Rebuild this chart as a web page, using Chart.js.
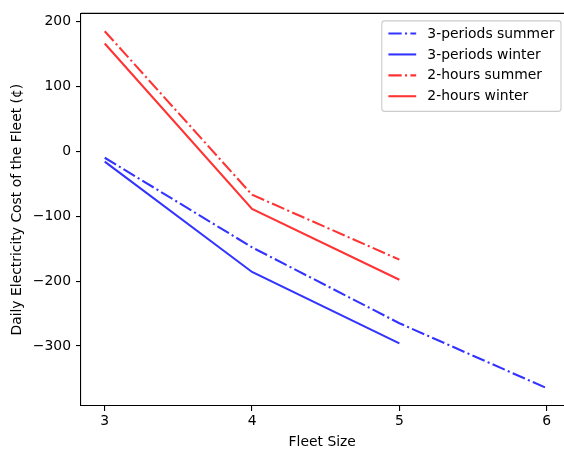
<!DOCTYPE html>
<html>
<head>
<meta charset="utf-8">
<script src="https://cdn.jsdelivr.net/npm/chart.js@4/dist/chart.umd.min.js"></script>
<style>
html,body{margin:0;padding:0;background:#fff;overflow:hidden;width:564px;height:451px;}
canvas{display:block;}
</style>
</head>
<body>
<canvas id="c" width="564" height="451" style="width:564px;height:451px"></canvas>
<script>
const fleetSizes = [3, 4, 5, 6];
const periodsSummer = [-10, -148, -265, -365];
const periodsWinter = [-16, -186, -296];
const hoursSummer = [185, -67, -167];
const hoursWinter = [166, -89, -198];
const xTicks = [3, 4, 5, 6];
const yTicks = [-300, -200, -100, 0, 100, 200];
const seriesLabels = ['3-periods summer', '3-periods winter', '2-hours summer', '2-hours winter'];

const FS = 13.9;
const FONT = 'DejaVu Sans';
const LW = 2.08;
const DASHDOT = [13.3, 3.3, 2.1, 3.3];
const BLUE = 'rgba(0,0,255,0.8)';
const RED = 'rgba(255,0,0,0.8)';

function pts(vals){ return vals.map((v,i)=>({x: fleetSizes[i], y: v})); }

const datasets = [
  {label: seriesLabels[0], data: pts(periodsSummer), borderColor: BLUE, borderDash: DASHDOT},
  {label: seriesLabels[1], data: pts(periodsWinter), borderColor: BLUE, borderDash: []},
  {label: seriesLabels[2], data: pts(hoursSummer), borderColor: RED, borderDash: DASHDOT},
  {label: seriesLabels[3], data: pts(hoursWinter), borderColor: RED, borderDash: []}
].map(d => Object.assign(d, {borderWidth: LW, pointRadius: 0, fill: false, tension: 0, borderCapStyle: 'butt'}));

const frame = {
  id: 'frame',
  afterDraw(chart){
    const ctx = chart.ctx, a = chart.chartArea;
    ctx.save();
    ctx.strokeStyle = '#000';
    ctx.lineWidth = 1.1;
    ctx.beginPath();
    ctx.moveTo(a.left, a.top);
    ctx.lineTo(chart.width, a.top);
    ctx.stroke();
    // legend
    ctx.font = FS + 'px "' + FONT + '"';
    let maxW = 0;
    chart.data.datasets.forEach(d => { maxW = Math.max(maxW, ctx.measureText(d.label).width); });
    const pad = 5.6, handle = 27.8, gap = 11.1, rowH = 20.9;
    const right = 561;
    const w = pad*2 + handle + gap + maxW + 2;
    const left = right - w;
    const top = a.top + 7.5;
    const h = 90.5;
    const r = 2.8;
    ctx.beginPath();
    ctx.moveTo(left + r, top);
    ctx.lineTo(right - r, top);
    ctx.arcTo(right, top, right, top + r, r);
    ctx.lineTo(right, top + h - r);
    ctx.arcTo(right, top + h, right - r, top + h, r);
    ctx.lineTo(left + r, top + h);
    ctx.arcTo(left, top + h, left, top + h - r, r);
    ctx.lineTo(left, top + r);
    ctx.arcTo(left, top, left + r, top, r);
    ctx.closePath();
    ctx.fillStyle = 'rgba(255,255,255,0.8)';
    ctx.fill();
    ctx.strokeStyle = '#cccccc';
    ctx.lineWidth = 1.1;
    ctx.stroke();
    chart.data.datasets.forEach((d, i) => {
      const y = top + 12.7 + i*rowH;
      const x0 = left + pad + 1;
      ctx.beginPath();
      ctx.setLineDash(d.borderDash || []);
      ctx.strokeStyle = d.borderColor;
      ctx.lineWidth = LW;
      ctx.moveTo(x0, y);
      ctx.lineTo(x0 + handle, y);
      ctx.stroke();
      ctx.setLineDash([]);
      ctx.fillStyle = '#000';
      ctx.textBaseline = 'middle';
      ctx.textAlign = 'left';
      ctx.fillText(d.label, x0 + handle + gap, y + 0.5);
    });
    ctx.restore();
  }
};

const gridOpts = {drawOnChartArea: false, drawTicks: true, tickLength: 5, tickColor: '#000', lineWidth: 1.1};
const tickFont = {family: FONT, size: FS};

new Chart(document.getElementById('c'), {
  type: 'line',
  data: {datasets},
  options: {
    responsive: false,
    animation: false,
    devicePixelRatio: 1,
    layout: {padding: {top: 10.5, right: 0.5, left: 0, bottom: 0}},
    plugins: {legend: {display: false}, tooltip: {enabled: false}},
    scales: {
      x: {
        type: 'linear', min: 2.839, max: 6.114,
        grid: gridOpts,
        border: {display: true, color: '#000', width: 1.1},
        ticks: {font: tickFont, color: '#000', padding: 2.5, maxRotation: 0},
        afterBuildTicks(s){ s.ticks = xTicks.map(v => ({value: v})); },
        afterFit(s){ s.height = 45; },
        title: {display: true, text: 'Fleet Size', font: tickFont, color: '#000', padding: {top: 0, bottom: 0}}
      },
      y: {
        type: 'linear', min: -392.5, max: 212.5,
        grid: gridOpts,
        border: {display: true, color: '#000', width: 1.1},
        ticks: {font: tickFont, color: '#000', padding: 5, callback: v => String(v).replace('-', '\u2212')},
        afterBuildTicks(s){ s.ticks = yTicks.map(v => ({value: v})); },
        afterFit(s){ s.width = 81; },
        title: {display: true, text: 'Daily Electricity Cost of the Fleet (¢)', font: tickFont, color: '#000', padding: {top: 8.7, bottom: 0}}
      }
    }
  },
  plugins: [frame]
});
</script>
</body>
</html>
